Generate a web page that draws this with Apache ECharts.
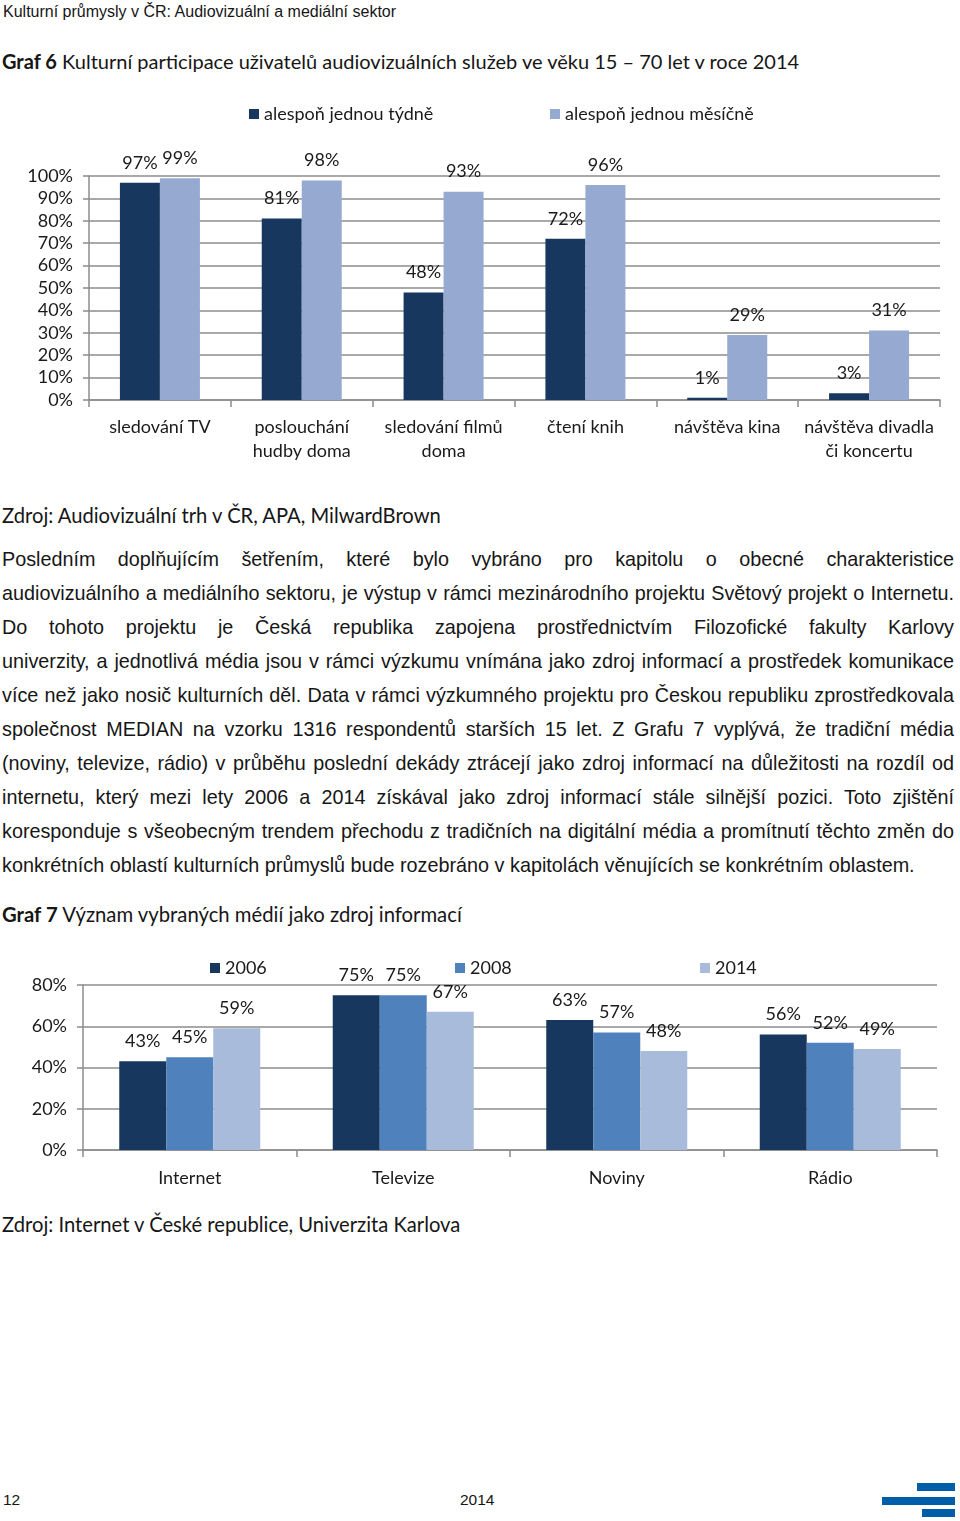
<!DOCTYPE html>
<html><head><meta charset="utf-8">
<script src="https://cdn.jsdelivr.net/npm/echarts@6/dist/echarts.min.js"></script>
<style>
html,body{margin:0;padding:0;background:#fff;}
body{width:960px;height:1521px;position:relative;overflow:hidden;color:#161616;}
.a{position:absolute;white-space:nowrap;line-height:24px;}
.arial{font-family:"Liberation Sans",Arial,sans-serif;}
.cal{font-family:Lato,"Open Sans",sans-serif;}
.jl{position:absolute;left:2px;width:952px;font-family:"Liberation Sans",Arial,sans-serif;font-size:19.8px;line-height:24px;text-align:justify;text-align-last:justify;}
.bar{position:absolute;background:#005ea8;}
</style></head>
<body>
<div class="a arial" style="left:3px;top:0px;font-size:16px;">Kulturní průmysly v ČR: Audiovizuální a mediální sektor</div>
<div class="a cal" style="left:2px;top:49px;font-size:20px;"><b>Graf 6</b> Kulturní participace uživatelů audiovizuálních služeb ve věku 15 – 70 let v roce 2014</div>
<div id="c1" style="position:absolute;left:0;top:90px;width:960px;height:380px;"></div>
<div class="a cal" style="left:2px;top:503px;font-size:20.2px;">Zdroj: Audiovizuální trh v ČR, APA, MilwardBrown</div>
<div id="para"></div>
<div class="a cal" style="left:2px;top:902px;font-size:20.3px;"><b>Graf 7</b> Význam vybraných médií jako zdroj informací</div>
<div id="c2" style="position:absolute;left:0;top:940px;width:960px;height:250px;"></div>
<div class="a cal" style="left:2px;top:1212px;font-size:20.2px;">Zdroj: Internet v České republice, Univerzita Karlova</div>
<div class="a arial" style="left:3px;top:1488px;font-size:15.5px;">12</div>
<div class="a arial" style="left:460px;top:1488px;font-size:15.5px;">2014</div>
<div class="bar" style="left:917px;top:1483px;width:38px;height:8px;"></div>
<div class="bar" style="left:882px;top:1497px;width:73px;height:8px;"></div>
<div class="bar" style="left:922px;top:1509px;width:33px;height:8px;"></div>
<script>
// ---- Graf 6 data ----
const categories1 = ['sledování TV','poslouchání\nhudby doma','sledování filmů\ndoma','čtení knih','návštěva kina','návštěva divadla\nči koncertu'];
const weekly = [97,81,48,72,1,3];
const monthly = [99,98,93,96,29,31];
const legend1 = ['alespoň jednou týdně','alespoň jednou měsíčně'];
// ---- Graf 7 data ----
const categories2 = ['Internet','Televize','Noviny','Rádio'];
const y2006 = [43,75,63,56];
const y2008 = [45,75,57,52];
const y2014 = [59,67,48,49];
const legend2 = ['2006','2008','2014'];

const paraLines = [
 'Posledním doplňujícím šetřením, které bylo vybráno pro kapitolu o obecné charakteristice',
 'audiovizuálního a mediálního sektoru, je výstup v rámci mezinárodního projektu Světový projekt o Internetu.',
 'Do tohoto projektu je Česká republika zapojena prostřednictvím Filozofické fakulty Karlovy',
 'univerzity, a jednotlivá média jsou v rámci výzkumu vnímána jako zdroj informací a prostředek komunikace',
 'více než jako nosič kulturních děl. Data v rámci výzkumného projektu pro Českou republiku zprostředkovala',
 'společnost MEDIAN na vzorku 1316 respondentů starších 15 let. Z Grafu 7 vyplývá, že tradiční média',
 '(noviny, televize, rádio) v průběhu poslední dekády ztrácejí jako zdroj informací na důležitosti na rozdíl od',
 'internetu, který mezi lety 2006 a 2014 získával jako zdroj informací stále silnější pozici. Toto zjištění',
 'koresponduje s všeobecným trendem přechodu z tradičních na digitální média a promítnutí těchto změn do',
 'konkrétních oblastí kulturních průmyslů bude rozebráno v kapitolách věnujících se konkrétním oblastem.'
];
const para = document.getElementById('para');
paraLines.forEach((t,i)=>{
  const d=document.createElement('div');
  d.className='jl';
  d.style.top=(547+i*34)+'px';
  if(i===paraLines.length-1){d.style.textAlign='left';d.style.textAlignLast='left';}
  d.textContent=t;
  para.appendChild(d);
});

const FONT='Lato';
const TXT='#1a1a1a';
const GRID='#8c8c8c';
const FS=18;

function yAxis(max, interval){
  return {type:'value',min:0,max:max,interval:interval,
    axisLabel:{formatter:'{value}%',fontFamily:FONT,fontSize:FS,color:TXT,margin:16},
    axisLine:{show:true,lineStyle:{color:GRID,width:1.5}},
    axisTick:{show:true,length:6,lineStyle:{color:GRID,width:1.5}},
    splitLine:{show:true,lineStyle:{color:GRID,width:1.5}}};
}
function xAxis(cats, margin){
  return {type:'category',data:cats,
    axisLabel:{fontFamily:FONT,fontSize:FS,color:TXT,margin:margin,lineHeight:24,interval:0},
    axisLine:{lineStyle:{color:GRID,width:1.5}},
    axisTick:{show:true,length:7,lineStyle:{color:GRID,width:1.5}}};
}
function barSeries(name,data,color,width){
  return {name:name,type:'bar',data:data,barWidth:width,barGap:'0%',
    itemStyle:{color:color},
    label:{show:true,position:'top',distance:11,formatter:'{c}%',fontFamily:FONT,fontSize:FS,color:TXT}};
}
function legendAt(name,left,top){
  return {data:[name],left:left,top:top,icon:'rect',itemWidth:10,itemHeight:10,itemGap:0,padding:0,
    textStyle:{fontFamily:FONT,fontSize:FS,color:TXT,padding:[0,0,0,0]}};
}

const c1 = echarts.init(document.getElementById('c1'),null,{renderer:'canvas'});
c1.setOption({
  animation:false,
  legend:[legendAt(legend1[0],249,15),legendAt(legend1[1],550,15)],
  grid:{left:89,right:20,top:86,bottom:70},
  xAxis:xAxis(categories1,15),
  yAxis:yAxis(100,10),
  series:[barSeries(legend1[0],weekly,'#17375e',40),barSeries(legend1[1],monthly,'#95a9d1',40)]
});

const c2 = echarts.init(document.getElementById('c2'),null,{renderer:'canvas'});
c2.setOption({
  animation:false,
  legend:[legendAt(legend2[0],210,19),legendAt(legend2[1],455,19),legendAt(legend2[2],700,19)],
  grid:{left:83,right:23,top:45,bottom:37},
  xAxis:xAxis(categories2,16),
  yAxis:yAxis(80,20),
  series:[barSeries(legend2[0],y2006,'#17375e',47),barSeries(legend2[1],y2008,'#4f81bd',47),barSeries(legend2[2],y2014,'#a9bbda',47)]
});
</script>
</body></html>
